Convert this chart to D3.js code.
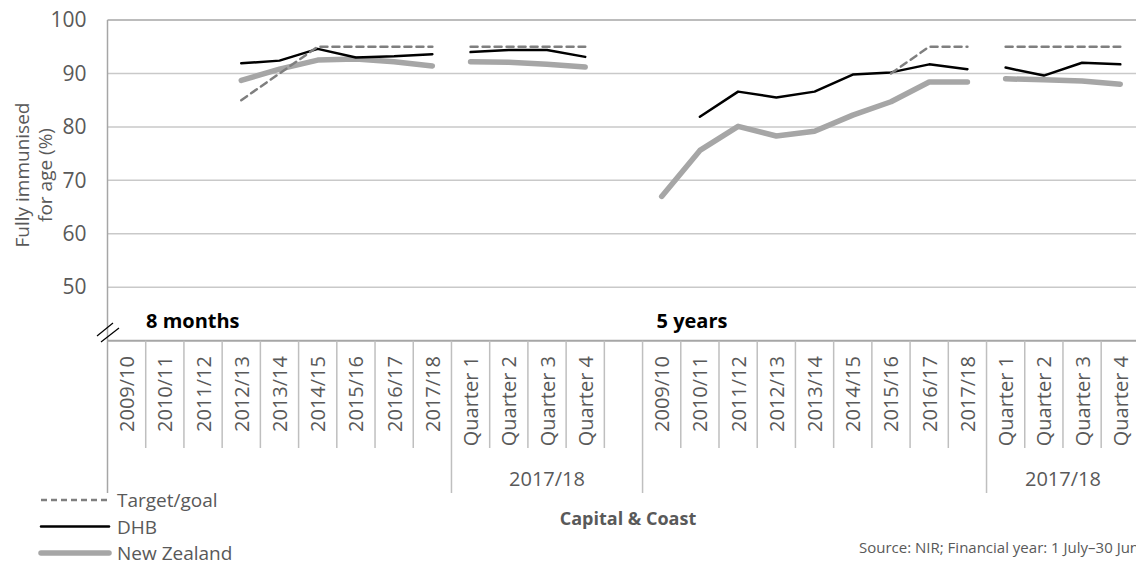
<!DOCTYPE html>
<html>
<head>
<meta charset="utf-8">
<script src="https://cdn.jsdelivr.net/npm/d3@7"></script>
<style>
  html, body { margin: 0; padding: 0; background: #ffffff; overflow: hidden; }
  svg { display: block; font-family: "Open Sans", "Noto Sans", sans-serif; }
</style>
</head>
<body>
<svg id="chart" width="1136" height="565"></svg>
<script>
// ---- data ----
const categories = [
  "2009/10","2010/11","2011/12","2012/13","2013/14","2014/15","2015/16","2016/17","2017/18",
  "Quarter 1","Quarter 2","Quarter 3","Quarter 4",
  "",
  "2009/10","2010/11","2011/12","2012/13","2013/14","2014/15","2015/16","2016/17","2017/18",
  "Quarter 1","Quarter 2","Quarter 3","Quarter 4"
];
const groupLabels = [
  { label: "2017/18", from: 9, to: 13 },
  { label: "2017/18", from: 23, to: 26 }
];
const ageLabels = [
  { label: "8 months", at: 0 },
  { label: "5 years", at: 14 }
];
const segments = [[0, 8], [9, 12], [14, 22], [23, 26]];
const targetGoal = [null,null,null,85,90,95,95,95,95, 95,95,95,95, null,
  null,null,null,null,null,null,90,95,95, 95,95,95,95];
const dhb = [null,null,null,91.9,92.4,94.6,93.0,93.2,93.6, 94.0,94.4,94.4,93.1, null,
  null,81.9,86.6,85.5,86.6,89.8,90.2,91.7,90.8, 91.1,89.6,92.0,91.7];
const newZealand = [null,null,null,88.7,90.8,92.5,92.7,92.2,91.4, 92.2,92.1,91.7,91.2, null,
  67.0,75.6,80.1,78.3,79.2,82.2,84.7,88.4,88.4, 89.0,88.8,88.6,88.0];
const yTicks = [50, 60, 70, 80, 90, 100];

// ---- layout ----
const svg = d3.select("#chart");
const x = d3.scaleBand().domain(d3.range(categories.length)).range([107.5, 1139.4]).padding(0);
const y = d3.scaleLinear().domain([40, 100]).range([340.7, 20]);
const axisY = 340.7, catBottom = 448, groupBottom = 493;
const textCol = "#595959";

// gridlines
svg.append("g").selectAll("line").data(yTicks).join("line")
  .attr("x1", 107.5).attr("x2", 1139.4)
  .attr("y1", d => y(d)).attr("y2", d => y(d))
  .attr("stroke", d => d === 100 ? "#a6a6a6" : "#c9c9c9")
  .attr("stroke-width", 1.5);

// y axis with d3
const yAxis = d3.axisLeft(y).tickValues(yTicks).tickSize(0).tickPadding(21);
const gy = svg.append("g").attr("transform", "translate(107.5,0)").call(yAxis);
gy.select(".domain").remove();
gy.selectAll("text").attr("fill", textCol).style("font-size", "21px").style("font-family", "'Open Sans', sans-serif");
svg.append("line").attr("x1", 107.5).attr("x2", 107.5).attr("y1", 20).attr("y2", groupBottom)
  .attr("stroke", "#a6a6a6").attr("stroke-width", 1.5);

// break marks
svg.append("line").attr("x1", 97).attr("y1", 336).attr("x2", 113).attr("y2", 323)
  .attr("stroke", "#000").attr("stroke-width", 1.2);
svg.append("line").attr("x1", 101).attr("y1", 342).attr("x2", 119).attr("y2", 328)
  .attr("stroke", "#000").attr("stroke-width", 1.2);

// category axis line
svg.append("line").attr("x1", 107.5).attr("x2", 1139.4).attr("y1", axisY).attr("y2", axisY)
  .attr("stroke", "#a6a6a6").attr("stroke-width", 2);

// category separators
svg.append("g").selectAll("line").data(d3.range(1, categories.length + 1)).join("line")
  .attr("x1", i => x(0) + i * x.bandwidth()).attr("x2", i => x(0) + i * x.bandwidth())
  .attr("y1", axisY).attr("y2", catBottom)
  .attr("stroke", "#bfbfbf").attr("stroke-width", 1.5);

// group separators
const groupEdges = [9, 14, 23];
svg.append("g").selectAll("line").data(groupEdges).join("line")
  .attr("x1", i => x(i)).attr("x2", i => x(i))
  .attr("y1", catBottom).attr("y2", groupBottom)
  .attr("stroke", "#bfbfbf").attr("stroke-width", 1.5);

// category labels
svg.append("g").selectAll("text").data(categories.map((c, i) => ({ c, i }))).join("text")
  .attr("transform", d => `translate(${x(d.i) + x.bandwidth() / 2},356) rotate(-90)`)
  .attr("text-anchor", "end").attr("dominant-baseline", "central")
  .attr("fill", textCol).style("font-size", "20px")
  .text(d => d.c);

// group labels
svg.append("g").selectAll("text").data(groupLabels).join("text")
  .attr("x", d => (x(d.from) + x(d.to) + x.bandwidth()) / 2).attr("y", 486)
  .attr("text-anchor", "middle").attr("fill", textCol).style("font-size", "20px")
  .text(d => d.label);

// age labels
svg.append("g").selectAll("text").data(ageLabels).join("text")
  .attr("x", (d, i) => x(d.at) + (i === 0 ? 38.5 : 14)).attr("y", 328)
  .attr("fill", "#000").style("font-size", "20px").style("font-weight", "bold")
  .text(d => d.label);

// lines
const lineGen = d3.line().defined(d => d.v !== null)
  .x(d => x(d.i) + x.bandwidth() / 2).y(d => y(d.v));
const series = [
  { values: newZealand, stroke: "#a6a6a6", width: 5.5, dash: null },
  { values: dhb, stroke: "#000000", width: 2.5, dash: null },
  { values: targetGoal, stroke: "#7f7f7f", width: 2.5, dash: "7,5" }
];
series.forEach(s => {
  segments.forEach(([a, b]) => {
    const pts = d3.range(a, b + 1).map(i => ({ i, v: s.values[i] }));
    svg.append("path").datum(pts).attr("d", lineGen)
      .attr("fill", "none").attr("stroke", s.stroke).attr("stroke-width", s.width)
      .attr("stroke-linecap", "round").attr("stroke-linejoin", "round")
      .attr("stroke-dasharray", s.dash);
  });
});

// y title
const yt = svg.append("text").attr("transform", "translate(0,175) rotate(-90)")
  .attr("text-anchor", "middle").attr("fill", textCol).style("font-size", "19px");
yt.append("tspan").attr("x", 0).attr("y", 29).text("Fully immunised");
yt.append("tspan").attr("x", 0).attr("y", 52).text("for age (%)");

// axis title
svg.append("text").attr("x", 628).attr("y", 525).attr("text-anchor", "middle")
  .attr("fill", textCol).style("font-size", "18px").style("font-weight", "bold")
  .text("Capital & Coast");

// legend
const legend = [
  { label: "Target/goal", stroke: "#7f7f7f", width: 2.5, dash: "6,4", cy: 500 },
  { label: "DHB", stroke: "#000000", width: 2.5, dash: null, cy: 526.5 },
  { label: "New Zealand", stroke: "#a6a6a6", width: 5.5, dash: null, cy: 553 }
];
const lg = svg.append("g");
legend.forEach(l => {
  lg.append("line").attr("x1", 41).attr("x2", 109).attr("y1", l.cy).attr("y2", l.cy)
    .attr("stroke", l.stroke).attr("stroke-width", l.width).attr("stroke-dasharray", l.dash)
    .attr("stroke-linecap", l.dash ? "butt" : "round");
  lg.append("text").attr("x", 117).attr("y", l.cy).attr("dominant-baseline", "central")
    .attr("fill", textCol).style("font-size", "19px").text(l.label);
});

// source
svg.append("text").attr("x", 859).attr("y", 553).attr("fill", textCol)
  .style("font-size", "15px").text("Source: NIR; Financial year: 1 July\u201330 June");
</script>
</body>
</html>
